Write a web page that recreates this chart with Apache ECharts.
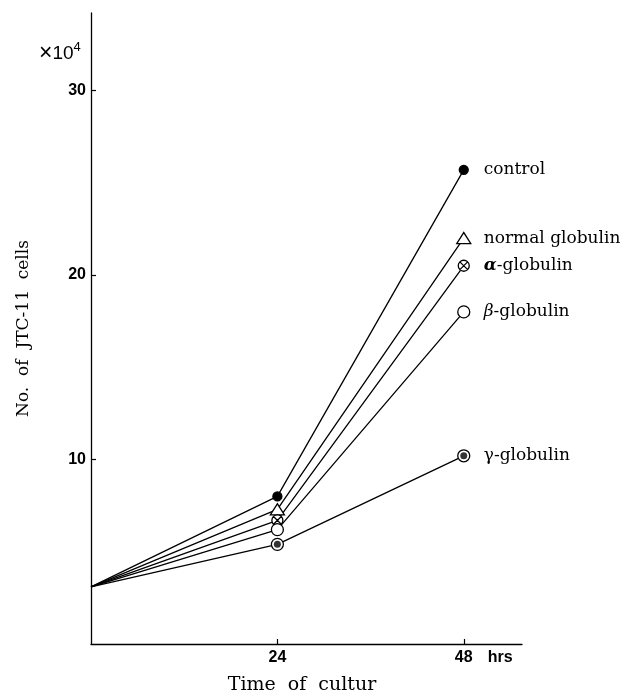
<!DOCTYPE html>
<html>
<head>
<meta charset="utf-8">
<script src="https://cdn.jsdelivr.net/npm/echarts@6/dist/echarts.min.js"></script>
<style>
html,body{margin:0;padding:0;background:#fff;}
#chart{width:639px;height:700px;}
</style>
</head>
<body>
<div id="chart"></div>
<script>
// ---- data ----
const hours = [0, 24, 48];
const control = [3.1, 8.0, 25.7];
const normalGlobulin = [3.1, 7.3, 22.0];
const alphaGlobulin = [3.1, 6.7, 20.5];
const betaGlobulin = [3.1, 6.2, 18.0];
const gammaGlobulin = [3.1, 5.4, 10.2];
const xTicks = [24, 48];
const yTicks = [10, 20, 30];
const seriesNames = ['control', 'normal globulin', 'α-globulin', 'β-globulin', 'γ-globulin'];

const serif = 'DejaVu Serif';
const sans = 'Liberation Sans';

function pts(vals) {
  return hours.map((h, i) => i === 0 ? { value: [h, vals[i]], symbol: 'none' } : [h, vals[i]]);
}

const otimesPath = 'path://M20,10 A10,10 0 1,1 0,10 A10,10 0 1,1 20,10 Z M2.93,2.93 L17.07,17.07 M2.93,17.07 L17.07,2.93';

const labelRich = {
  g: { fontFamily: serif, fontSize: 17, fontStyle: 'italic', fontWeight: 'bold', color: '#000' },
  b: { fontFamily: serif, fontSize: 17, fontStyle: 'italic', color: '#000' },
  t: { fontFamily: serif, fontSize: 17, color: '#000' }
};

function lineSeries(name, vals, symbol, size, fill, fmt) {
  return {
    type: 'line',
    name: name,
    data: pts(vals),
    symbol: symbol,
    symbolSize: size,
    showAllSymbol: true,
    lineStyle: { color: '#000', width: 1.3 },
    itemStyle: { color: fill, borderColor: '#000', borderWidth: 1.3 },
    endLabel: {
      show: true,
      distance: 20,
      formatter: fmt,
      rich: labelRich,
      fontFamily: serif,
      fontSize: 17,
      color: '#000'
    },
    z: 3
  };
}

const tickFont = { fontFamily: sans, fontSize: 16, fontWeight: 'bold', color: '#000' };

const option = {
  animation: false,
  backgroundColor: '#fff',
  grid: { left: 91, right: 117, top: 13, bottom: 51, containLabel: false },
  xAxis: {
    type: 'value',
    min: 0,
    max: 55.5,
    interval: 24,
    name: 'Time  of  cultur',
    nameLocation: 'middle',
    nameGap: 32,
    nameTextStyle: { fontFamily: serif, fontSize: 19, color: '#000', padding: [0, 9, 0, 0] },
    axisLine: { lineStyle: { color: '#000', width: 1.3 } },
    axisTick: { inside: true, length: 5, customValues: xTicks, lineStyle: { color: '#000', width: 1.2 } },
    axisLabel: Object.assign({
      customValues: xTicks,
      margin: 6,
      formatter: function (v) { return v === 48 ? '{p|}{n|48}{h|hrs}' : '{n|' + v + '}'; },
      rich: {
        n: tickFont,
        p: { width: 40 },
        h: Object.assign({ width: 40, align: 'right' }, tickFont)
      }
    }, tickFont),
    splitLine: { show: false }
  },
  yAxis: {
    type: 'value',
    min: 0,
    max: 34.2,
    interval: 10,
    name: 'No.  of  JTC-11  cells',
    nameLocation: 'middle',
    nameGap: 59,
    nameTextStyle: { fontFamily: serif, fontSize: 17, color: '#000' },
    axisLine: { show: true, lineStyle: { color: '#000', width: 1.3 } },
    axisTick: { show: true, inside: true, length: 5, customValues: yTicks, lineStyle: { color: '#000', width: 1.2 } },
    axisLabel: Object.assign({ customValues: yTicks, margin: 5 }, tickFont),
    splitLine: { show: false }
  },
  graphic: [{
    type: 'text',
    left: 39,
    top: 41,
    style: {
      text: '{x|×}{n|10}{s|4}',
      fill: '#000',
      rich: {
        x: { fontFamily: sans, fontSize: 23, fill: '#000' },
        n: { fontFamily: sans, fontSize: 19, fill: '#000' },
        s: { fontFamily: sans, fontSize: 13, verticalAlign: 'top', padding: [0, 0, 12, 0], fill: '#000' }
      }
    }
  }],
  series: [
    lineSeries(seriesNames[0], control, 'circle', 9, '#000', '{t|control}'),
    lineSeries(seriesNames[1], normalGlobulin, 'triangle', [14, 11], '#fff', '{t|normal globulin}'),
    lineSeries(seriesNames[2], alphaGlobulin, otimesPath, 11, '#fff', '{g|α}{t|-globulin}'),
    lineSeries(seriesNames[3], betaGlobulin, 'circle', 12, '#fff', '{b|β}{t|-globulin}'),
    lineSeries(seriesNames[4], gammaGlobulin, 'circle', 12, '#fff', '{t|γ-globulin}'),
    {
      type: 'scatter',
      name: 'γ-globulin centre',
      data: hours.slice(1).map((h, i) => [h, gammaGlobulin[i + 1]]),
      symbol: 'circle',
      symbolSize: 7,
      itemStyle: { color: '#000' },
      silent: true,
      z: 5
    }
  ]
};

const chart = echarts.init(document.getElementById('chart'), null, { renderer: 'canvas' });
chart.setOption(option);
</script>
</body>
</html>
